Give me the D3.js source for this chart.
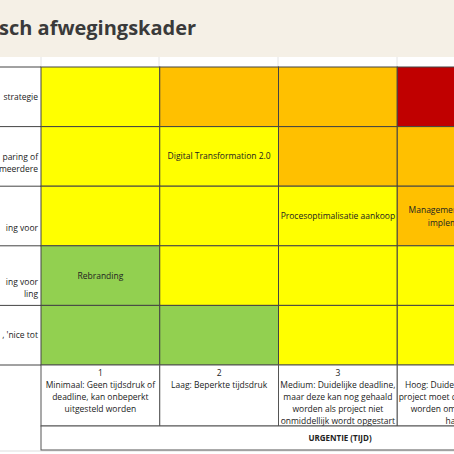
<!DOCTYPE html><html><head><meta charset="utf-8"><script src="https://cdn.jsdelivr.net/npm/d3@7"></script>
<style>body{margin:0;background:#fff}text{font-family:"Open Sans",sans-serif}</style></head><body><svg id="c" width="454" height="454"></svg>
<script>
const title="sch afwegingskader";
const columns=["1","2","3","4"];
const rowLabels=[["strategie"],["paring of","meerdere"],["ing voor"],["ing voor","ling"],[", 'nice tot"]];
const levels=[[1,2,2,3],[1,1,2,2],[1,1,1,2],[0,1,1,1],[0,0,1,1]];
const palette=["#92d050","#ffff00","#ffc000","#c00000"];
const cellTexts=[{r:1,c:1,t:["Digital Transformation 2.0"]},{r:2,c:2,t:["Procesoptimalisatie aankoop"]},{r:2,c:3,t:["Management informatie","implementatie"]},{r:3,c:0,t:["Rebranding"],top:true}];
const colDesc=[["Minimaal: Geen tijdsdruk of","deadline, kan onbeperkt","uitgesteld worden"],["Laag: Beperkte tijdsdruk"],["Medium: Duidelijke deadline,","maar deze kan nog gehaald","worden als project niet","onmiddellijk wordt opgestart"],["Hoog: Duidelijke deadline,","project moet direct opgestart","worden om deadline te","halen"]];
const axisTitle="URGENTIE (TIJD)";

const svg=d3.select("#c");
svg.append("rect").attr("width",454).attr("height",57).attr("fill","#f5f0e6");
svg.append("text").attr("x",-1).attr("y",35).attr("font-size",20).attr("font-weight","bold").attr("fill","#3a3a3a").attr("font-family","Liberation Sans").text(title);
const x=d3.scaleBand().domain(d3.range(4)).range([41,516]);
const y=d3.scaleBand().domain(d3.range(5)).range([67,365]);
[41,159,278,397].forEach(v=>svg.append("line").attr("x1",v).attr("x2",v).attr("y1",57).attr("y2",67).attr("stroke","#e4e4e4"));
svg.append("line").attr("x1",0).attr("x2",454).attr("y1",451).attr("y2",451).attr("stroke","#ddd");
levels.forEach((row,r)=>row.forEach((l,c)=>{
 svg.append("rect").attr("x",x(c)).attr("y",y(r)).attr("width",x.bandwidth()).attr("height",y.bandwidth()).attr("fill",palette[l]).attr("stroke","#444").attr("stroke-width",1);
}));
const labelShift=[0,7,12,12,0];
levels.forEach((row,r)=>{
 svg.append("line").attr("x1",0).attr("x2",41).attr("y1",y(r)).attr("y2",y(r)).attr("stroke","#444");
 const lines=rowLabels[r];
 const cy=y(r)+y.bandwidth()/2+labelShift[r];
 lines.forEach((s,i)=>svg.append("text").attr("x",38).attr("y",cy+3+(i-(lines.length-1)/2)*12).attr("text-anchor","end").attr("font-size",8.5).attr("fill","#222").text(s));
});
svg.append("line").attr("x1",0).attr("x2",41).attr("y1",365).attr("y2",365).attr("stroke","#444");
cellTexts.forEach(d=>{
 const cx=x(d.c)+x.bandwidth()/2, cy=d.top?y(d.r)+30:y(d.r)+y.bandwidth()/2;
 d.t.forEach((s,i)=>svg.append("text").attr("x",cx).attr("y",cy+3+(i-(d.t.length-1)/2)*13).attr("text-anchor","middle").attr("font-size",8.5).attr("fill","#222").text(s));
});
columns.forEach((col,c)=>{
 svg.append("rect").attr("x",x(c)).attr("y",365).attr("width",x.bandwidth()).attr("height",61).attr("fill","#fff").attr("stroke","#555");
 const cx=x(c)+x.bandwidth()/2;
 svg.append("text").attr("x",cx).attr("y",376).attr("text-anchor","middle").attr("font-size",8.5).attr("fill","#222").text(col);
 colDesc[c].forEach((s,i)=>svg.append("text").attr("x",cx).attr("y",388+i*12).attr("text-anchor","middle").attr("font-size",8.5).attr("fill","#222").text(s));
});
svg.append("rect").attr("x",41).attr("y",426).attr("width",475).attr("height",24).attr("fill","#fff").attr("stroke","#555");
svg.append("text").attr("x",340).attr("y",441).attr("text-anchor","middle").attr("font-size",8).attr("font-weight","bold").attr("fill","#222").text(axisTitle);
</script></body></html>
